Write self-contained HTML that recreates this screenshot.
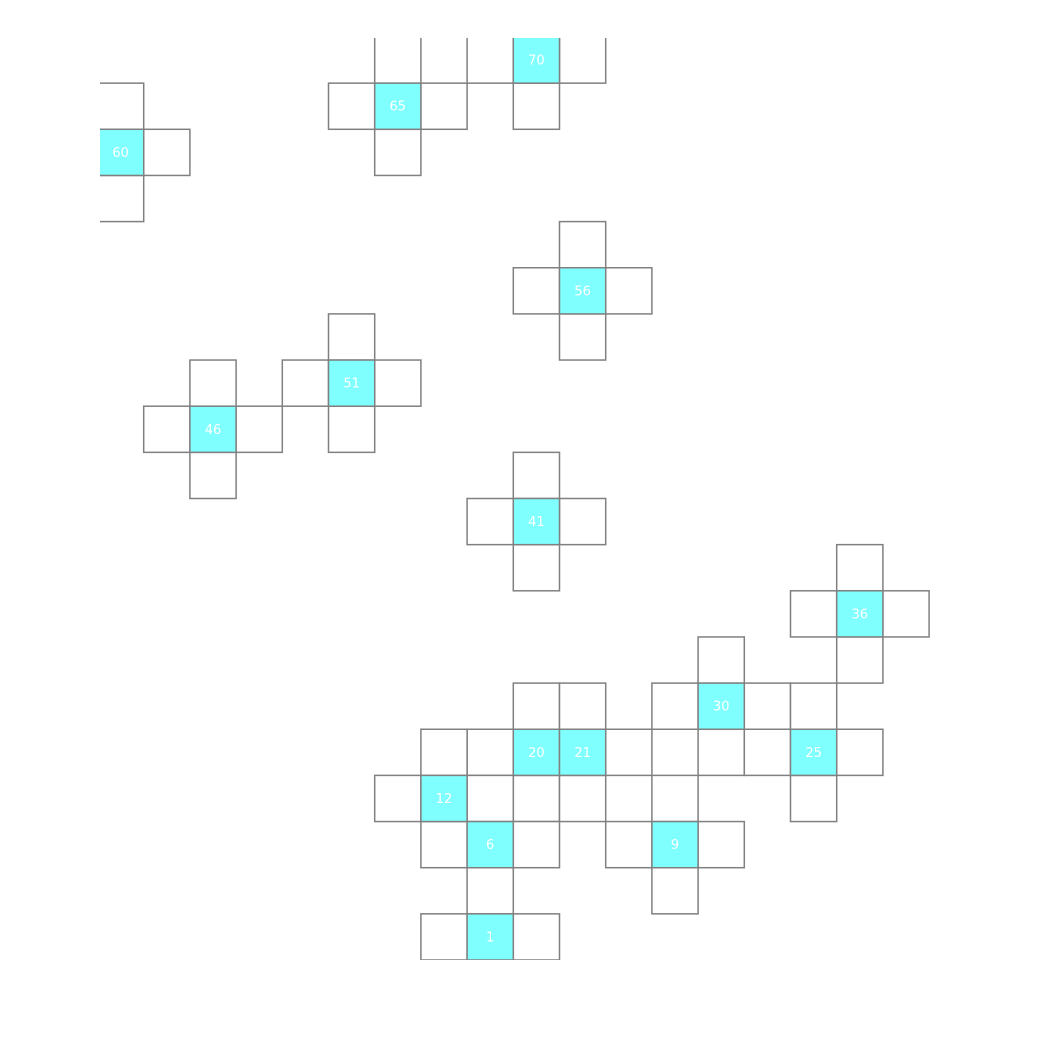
<!DOCTYPE html>
<html><head><meta charset="utf-8"><style>
html,body{margin:0;padding:0;background:#fff;}
svg{display:block;}
</style></head><body>
<svg id="chart" width="1060" height="1041" xmlns="http://www.w3.org/2000/svg">
<defs><clipPath id="clip"><rect x="100" y="38" width="860" height="922"/></clipPath></defs>
<g id="plot" clip-path="url(#clip)"></g>
</svg>
<script>
const labels = [70, 65, 60, 56, 51, 46, 41, 36, 30, 25, 20, 21, 12, 6, 9, 1];
const cols   = [9, 6, 0, 10, 5, 2, 9, 16, 13, 15, 9, 10, 7, 8, 12, 8];
const rows   = [0, 1, 2, 5, 7, 8, 10, 12, 14, 15, 15, 15, 16, 17, 17, 19];

const X0 = 97.5, Y0 = 37, CW = 46.2, CH = 46.15;
function xs(c){ return X0 + c*CW; }
function ys(r){ return Y0 + r*CH; }
const NS = 'http://www.w3.org/2000/svg';
const plot = document.getElementById('plot');

const nb = new Set();
const hi = new Set(cols.map((c,i)=>c+','+rows[i]));
cols.forEach((c,i)=>{
  const r = rows[i];
  [[c-1,r],[c+1,r],[c,r-1],[c,r+1]].forEach(([a,b])=>{
    const k=a+','+b; if(!hi.has(k)) nb.add(k);
  });
});
nb.forEach(k=>{
  const [c,r]=k.split(',').map(Number);
  const rect=document.createElementNS(NS,'rect');
  rect.setAttribute('x',xs(c)); rect.setAttribute('y',ys(r));
  rect.setAttribute('width',CW); rect.setAttribute('height',CH);
  rect.setAttribute('fill','#fff'); rect.setAttribute('stroke','#808080'); rect.setAttribute('stroke-width','1.5');
  
  
  plot.appendChild(rect);
});
cols.forEach((c,i)=>{
  const r=rows[i];
  const rect=document.createElementNS(NS,'rect');
  rect.setAttribute('x',xs(c)); rect.setAttribute('y',ys(r));
  rect.setAttribute('width',CW); rect.setAttribute('height',CH);
  rect.setAttribute('fill','#80ffff'); rect.setAttribute('stroke','#808080'); rect.setAttribute('stroke-width','1.5');
  
  
  plot.appendChild(rect);
  const t=document.createElementNS(NS,'text');
  t.setAttribute('x',xs(c)+CW/2); t.setAttribute('y',ys(r)+CH/2+4.5);
  t.setAttribute('text-anchor','middle'); t.setAttribute('fill','#fff');
  t.setAttribute('font-family','"DejaVu Sans","Liberation Sans",sans-serif'); t.setAttribute('font-size','13');
  t.textContent=labels[i];
  
  
  plot.appendChild(t);
});
</script>
</body></html>
